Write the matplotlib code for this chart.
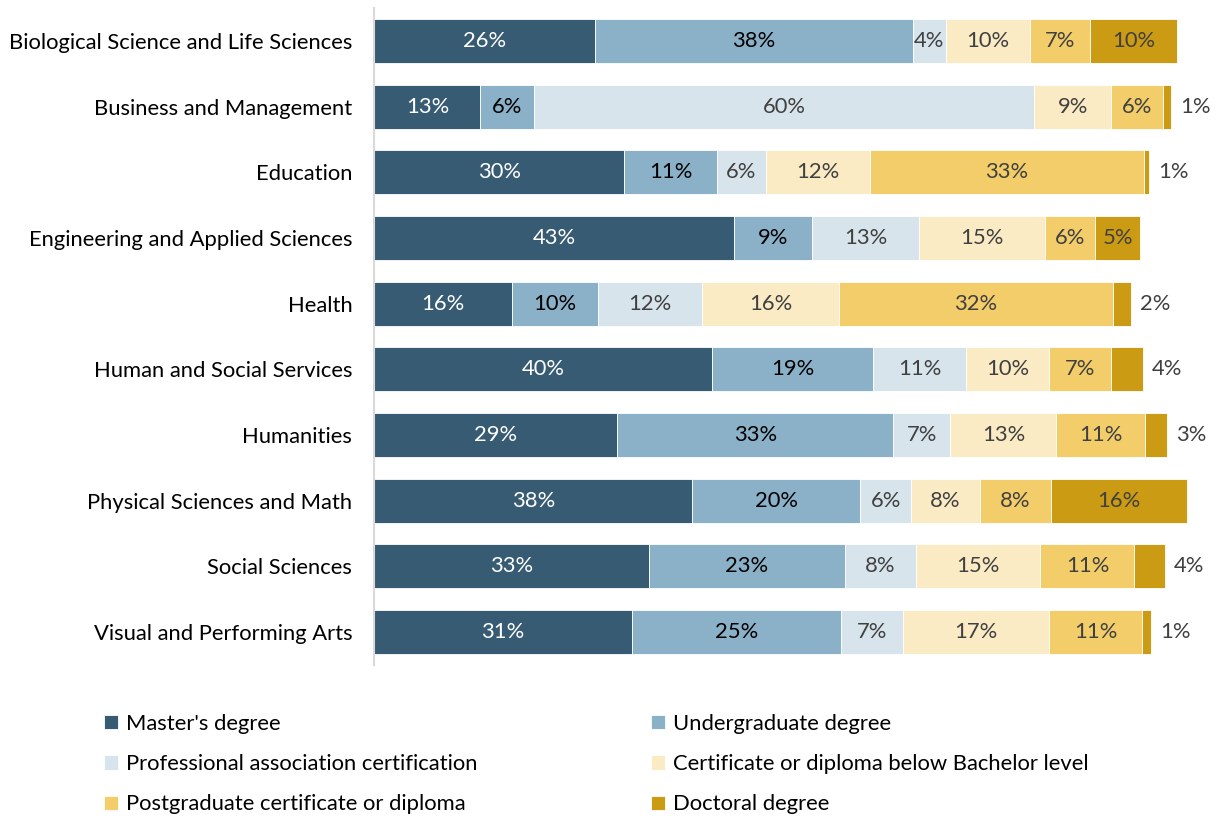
import matplotlib.pyplot as plt
import numpy as np

plt.rcParams['font.family'] = ['Lato', 'DejaVu Sans']

fields = ["Biological Science and Life Sciences", "Business and Management", "Education",
          "Engineering and Applied Sciences", "Health", "Human and Social Services",
          "Humanities", "Physical Sciences and Math", "Social Sciences",
          "Visual and Performing Arts"]

series = ["Master's degree", "Undergraduate degree", "Professional association certification",
          "Certificate or diploma below Bachelor level", "Postgraduate certificate or diploma",
          "Doctoral degree"]

# shares in % (labels are the rounded values)
masters = [26.2, 12.6, 29.7, 42.8, 16.3, 40.2, 28.9, 37.8, 32.6, 30.6]
undergrad = [37.8, 6.4, 11.0, 9.2, 10.3, 19.1, 32.8, 20.0, 23.4, 24.9]
professional = [4.0, 59.5, 5.9, 12.8, 12.4, 11.1, 6.8, 6.0, 8.4, 7.4]
certificate = [10.0, 9.1, 12.3, 14.9, 16.3, 9.8, 12.6, 8.2, 14.8, 17.3]
postgrad = [7.1, 6.2, 32.6, 6.0, 32.5, 7.4, 10.6, 8.5, 11.2, 11.1]
doctoral = [10.4, 0.9, 0.6, 5.4, 2.2, 3.8, 2.6, 16.1, 3.6, 1.1]

colors = ['#375b73', '#8ab1c8', '#d8e4ec', '#faebc5', '#f2cd6a', '#cc9b14']
label_colors = ['white', 'black', '#404040', '#404040', '#404040', '#404040']

data = [masters, undergrad, professional, certificate, postgrad, doctoral]

fs = 15.8

fig = plt.figure(figsize=(12.17, 8.17), dpi=100)
ax = fig.add_axes([374.5/1217, 1 - 665/817, 836.5/1217, (665 - 8)/817])

y = np.arange(len(fields))
left = np.zeros(len(fields))
handles = []
for k, vals in enumerate(data):
    vals = np.array(vals, dtype=float)
    b = ax.barh(y, vals, left=left, height=0.67, color=colors[k],
                edgecolor='white', linewidth=0.6, label=series[k])
    handles.append(b)
    for i, v in enumerate(vals):
        txt = f"{round(v)}%"
        if k == 5 and v < 4.5:
            ax.text(left[i] + v + 1.1, y[i], txt, ha='left', va='center',
                    fontsize=fs, color='#404040')
        else:
            ax.text(left[i] + v / 2, y[i], txt, ha='center', va='center',
                    fontsize=fs, color=label_colors[k])
    left += vals

ax.set_xlim(0, 99.5)
ax.set_ylim(len(fields) - 0.5, -0.5)
ax.set_yticks(y)
ax.set_yticklabels(fields, fontsize=fs, color='black')
ax.set_xticks([])
ax.tick_params(axis='y', length=0, pad=16)
for s in ['top', 'right', 'bottom']:
    ax.spines[s].set_visible(False)
ax.spines['left'].set_color('#d9d9d9')
ax.spines['left'].set_linewidth(1.5)

leg_kw = dict(loc='upper left', frameon=False, fontsize=fs, handlelength=0.62,
              handleheight=0.62, handletextpad=0.36, labelspacing=0.92,
              borderpad=0, borderaxespad=0)
fig.legend([handles[0], handles[2], handles[4]], [series[0], series[2], series[4]],
           bbox_to_anchor=(104/1217, 1 - 714/817), **leg_kw)
fig.legend([handles[1], handles[3], handles[5]], [series[1], series[3], series[5]],
           bbox_to_anchor=(651/1217, 1 - 714/817), **leg_kw)

fig.savefig('out.png', dpi=100)
